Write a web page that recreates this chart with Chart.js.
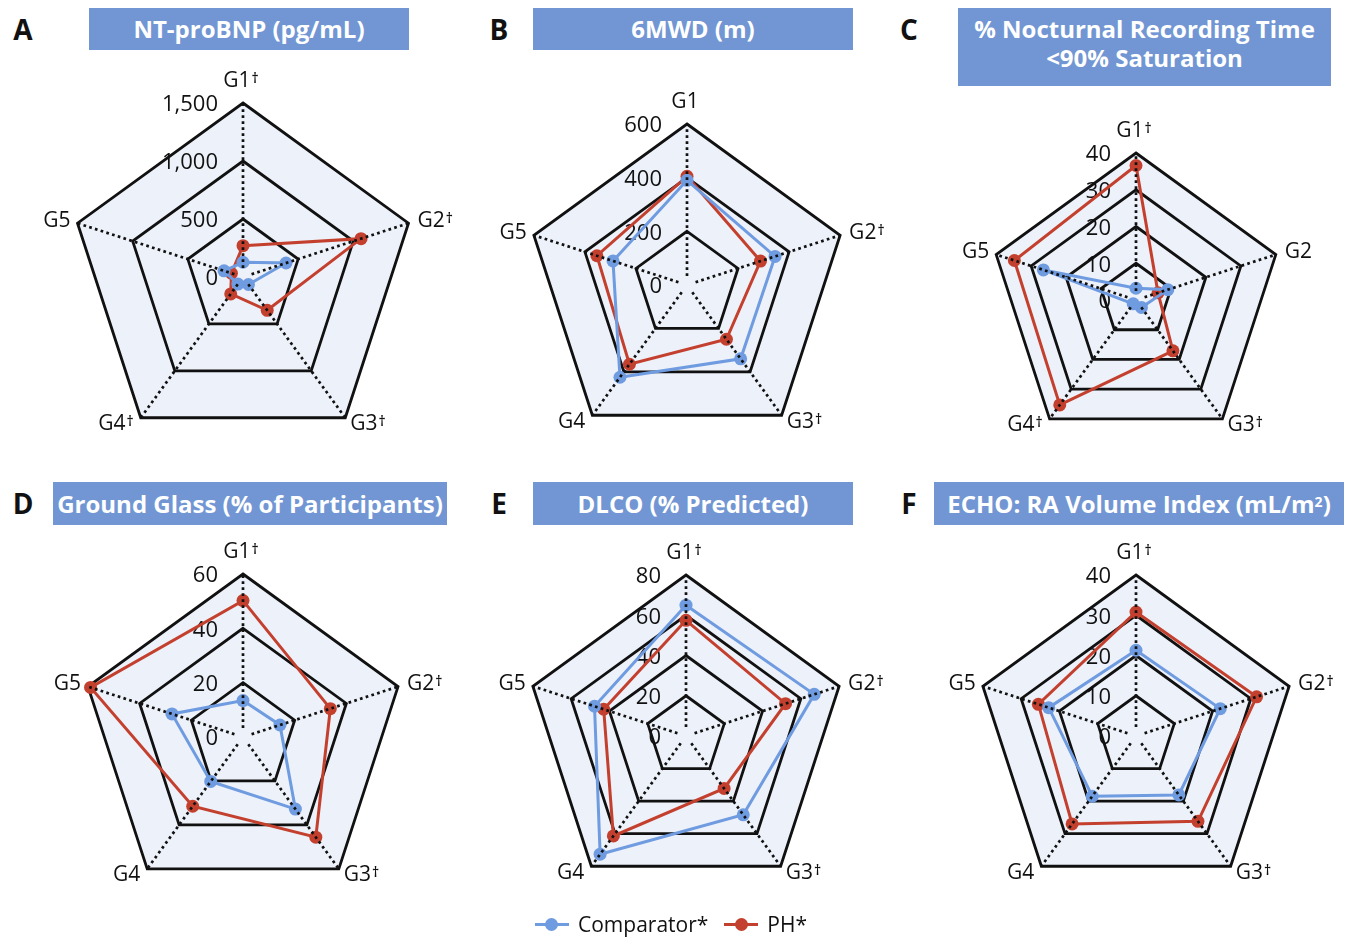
<!DOCTYPE html>
<html>
<head>
<meta charset="utf-8">
<title>Radar panels: Comparator vs PH by group</title>
<script src="https://cdn.jsdelivr.net/npm/chart.js@4.4.1/dist/chart.umd.min.js"></script>
<style>
  html, body { margin: 0; padding: 0; background: #ffffff; }
  body { width: 1352px; height: 937px; position: relative; overflow: hidden; font-family: "Open Sans", sans-serif; }
  .letter { position: absolute; transform: translate(-50%, -50%); font-weight: 700; font-size: 28px; line-height: 1; color: #111; }
  .title { position: absolute; background: #7196d3; color: #fff; font-weight: 700; font-size: 24px; box-sizing: border-box;
           display: flex; align-items: center; justify-content: center; text-align: center; line-height: 29.5px; }
  .title sup { font-size: 14px; line-height: 0; position: relative; top: -2px; }
  canvas { position: absolute; }
  .legend { position: absolute; left: -5px; width: 1352px; top: 906px; height: 36px; display: flex; justify-content: center; align-items: center; gap: 16px; font-size: 21px; color: #111; }
  .legend .item { display: flex; align-items: center; }
  .legend .swatch { position: relative; width: 34px; height: 3px; margin-right: 9px; }
  .legend .swatch i { position: absolute; left: 10.5px; top: -5px; width: 13px; height: 13px; border-radius: 50%; }
</style>
</head>
<body>

<div class="letter" style="left:23px;top:29px">A</div>
<div class="title" style="left:89px;top:8px;width:320px;height:42px">NT-proBNP (pg/mL)</div>
<div class="letter" style="left:499px;top:29px">B</div>
<div class="title" style="left:533px;top:8px;width:320px;height:42px">6MWD (m)</div>
<div class="letter" style="left:909px;top:29px">C</div>
<div class="title" style="left:958px;top:8px;width:373px;height:78px;padding-bottom:8px">% Nocturnal Recording Time<br>&lt;90% Saturation</div>

<div class="letter" style="left:23px;top:503px">D</div>
<div class="title" style="left:53px;top:482px;width:394px;height:43px">Ground Glass (% of Participants)</div>
<div class="letter" style="left:499px;top:503px">E</div>
<div class="title" style="left:533px;top:482px;width:320px;height:43px">DLCO (% Predicted)</div>
<div class="letter" style="left:909px;top:503px">F</div>
<div class="title" style="left:934px;top:482px;width:410px;height:43px">ECHO: RA Volume Index (mL/m<sup>2</sup>)</div>

<canvas id="chartA"></canvas>
<canvas id="chartB"></canvas>
<canvas id="chartC"></canvas>
<canvas id="chartD"></canvas>
<canvas id="chartE"></canvas>
<canvas id="chartF"></canvas>

<div class="legend" id="legend"></div>

<script>
// ---- data ----
const seriesNames = ['Comparator*', 'PH*'];

// NT-proBNP (pg/mL)
const bnpAxes = ['G1†', 'G2†', 'G3†', 'G4†', 'G5'];
const bnpTicks = [0, 500, 1000, 1500];
const bnpComparator = [127, 390, 80, 75, 172];
const bnpPH = [270, 1070, 355, 180, 105];

// 6MWD (m)
const walkAxes = ['G1', 'G2†', 'G3†', 'G4', 'G5'];
const walkTicks = [0, 200, 400, 600];
const walkComparator = [390, 345, 340, 425, 290];
const walkPH = [405, 288, 250, 365, 353];

// % nocturnal recording time < 90% saturation
const desatAxes = ['G1†', 'G2', 'G3†', 'G4†', 'G5'];
const desatTicks = [0, 10, 20, 30, 40];
const desatComparator = [3.2, 9.1, 2.5, 1.3, 26.5];
const desatPH = [36.6, 6.3, 17.1, 35.3, 34.8];

// Ground glass (% of participants)
const glassAxes = ['G1†', 'G2†', 'G3†', 'G4', 'G5'];
const glassTicks = [0, 20, 40, 60];
const glassComparator = [13.4, 14.3, 32.8, 20.2, 27.5];
const glassPH = [50.2, 33.8, 45.6, 31.5, 59];

// DLCO (% predicted)
const dlcoAxes = ['G1†', 'G2†', 'G3†', 'G4', 'G5'];
const dlcoTicks = [0, 20, 40, 60, 80];
const dlcoComparator = [65, 67, 48.4, 72.6, 47.8];
const dlcoPH = [57.5, 52, 32.2, 61.4, 43];

// Echo RA volume index (mL/m2)
const raAxes = ['G1†', 'G2†', 'G3†', 'G4', 'G5'];
const raTicks = [0, 10, 20, 30, 40];
const raComparator = [21.3, 22, 18.1, 18.5, 22.8];
const raPH = [30.8, 31.5, 26.2, 27, 25.5];

// ---- styling ----
const BLUE = '#6f9be0';
const RED = '#c4402e';
const INK = '#111111';
const PANEL_BG = '#edf1f9';
const PAD = 60;

// Writes "G1" and a small raised dagger after it.
function drawAxisLabel(ctx, text, x, y, align) {
  let base = text, dag = '';
  if (text.endsWith('†')) { base = text.slice(0, -1); dag = '†'; }
  ctx.font = '21px "Open Sans"';
  const wb = ctx.measureText(base).width;
  ctx.font = '600 14px "Open Sans"';
  const wd = dag ? ctx.measureText(dag).width + 1 : 0;
  const total = wb + wd;
  const x0 = align === 'left' ? x : align === 'right' ? x - total : x - total / 2;
  ctx.textAlign = 'left';
  ctx.textBaseline = 'middle';
  ctx.font = '21px "Open Sans"';
  ctx.fillText(base, x0, y);
  if (dag) {
    ctx.textBaseline = 'alphabetic';
    ctx.font = '600 14px "Open Sans"';
    ctx.fillText(dag, x0 + wb + 1, y + 2);
  }
}

// Tick values under the data, dotted spokes and axis names over it.
const radarDecor = {
  id: 'radarDecor',
  beforeDatasetsDraw(chart) {
    const s = chart.scales.r;
    const ctx = chart.ctx;
    ctx.save();
    ctx.fillStyle = INK;
    ctx.font = '22px "Open Sans"';
    ctx.textAlign = 'right';
    ctx.textBaseline = 'middle';
    s.ticks.forEach(t => {
      const y = s.yCenter - s.getDistanceFromCenterForValue(t.value);
      ctx.fillText(t.label, s.xCenter - 25, y + 2);
    });
    ctx.restore();
  },
  afterDatasetsDraw(chart) {
    const s = chart.scales.r;
    const ctx = chart.ctx;
    const labels = chart.data.labels;
    const R = s.getDistanceFromCenterForValue(s.max);
    ctx.save();
    ctx.strokeStyle = INK;
    ctx.lineWidth = 2.7;
    ctx.setLineDash([2.7, 3.3]);
    for (let i = 0; i < labels.length; i++) {
      const a = s.getPointPosition(i, 9);
      const b = s.getPointPosition(i, R);
      ctx.beginPath();
      ctx.moveTo(a.x, a.y);
      ctx.lineTo(b.x, b.y);
      ctx.stroke();
    }
    ctx.setLineDash([]);
    ctx.fillStyle = INK;
    const place = [
      [-2, -22, 'center'],
      [9, -2.5, 'left'],
      [5, 6.5, 'left'],
      [-7, 6.5, 'right'],
      [-7, -2.5, 'right']
    ];
    labels.forEach((lab, i) => {
      const v = s.getPointPosition(i, R);
      const p = place[i];
      drawAxisLabel(ctx, lab, v.x + p[0], v.y + p[1], p[2]);
    });
    ctx.restore();
  }
};

function makeRadar(id, cx, cy, R, axes, ticks, comparator, ph) {
  const el = document.getElementById(id);
  const size = 2 * R + 2 * PAD;
  el.width = size;
  el.height = size;
  el.style.left = (cx - R - PAD) + 'px';
  el.style.top = (cy - R - PAD) + 'px';
  const series = [comparator, ph];
  const colors = [BLUE, RED];
  return new Chart(el, {
    type: 'radar',
    data: {
      labels: axes,
      datasets: series.map((vals, k) => ({
        label: seriesNames[k],
        data: vals,
        borderColor: colors[k],
        backgroundColor: colors[k],
        pointBackgroundColor: colors[k],
        pointBorderColor: colors[k],
        borderWidth: 3,
        pointRadius: 6.5,
        pointBorderWidth: 0,
        fill: false,
        tension: 0
      }))
    },
    options: {
      responsive: false,
      animation: false,
      devicePixelRatio: 1,
      layout: { padding: PAD },
      plugins: { legend: { display: false }, tooltip: { enabled: false } },
      events: [],
      scales: {
        r: {
          min: ticks[0],
          max: ticks[ticks.length - 1],
          backgroundColor: PANEL_BG,
          ticks: { display: false, stepSize: ticks[1] - ticks[0] },
          pointLabels: { display: false },
          angleLines: { display: false },
          grid: { color: INK, lineWidth: 2.8 }
        }
      }
    },
    plugins: [radarDecor]
  });
}

makeRadar('chartA', 243, 277, 174, bnpAxes, bnpTicks, bnpComparator, bnpPH);
makeRadar('chartB', 687, 285, 161, walkAxes, walkTicks, walkComparator, walkPH);
makeRadar('chartC', 1136, 300, 147, desatAxes, desatTicks, desatComparator, desatPH);
makeRadar('chartD', 243, 737, 163, glassAxes, glassTicks, glassComparator, glassPH);
makeRadar('chartE', 686, 736, 161, dlcoAxes, dlcoTicks, dlcoComparator, dlcoPH);
makeRadar('chartF', 1136, 736, 161, raAxes, raTicks, raComparator, raPH);

// shared legend
const legend = document.getElementById('legend');
[BLUE, RED].forEach((c, k) => {
  const item = document.createElement('div');
  item.className = 'item';
  item.innerHTML = '<span class="swatch" style="background:' + c + '"><i style="background:' + c + '"></i></span><span>' + seriesNames[k] + '</span>';
  legend.appendChild(item);
});
</script>
</body>
</html>
